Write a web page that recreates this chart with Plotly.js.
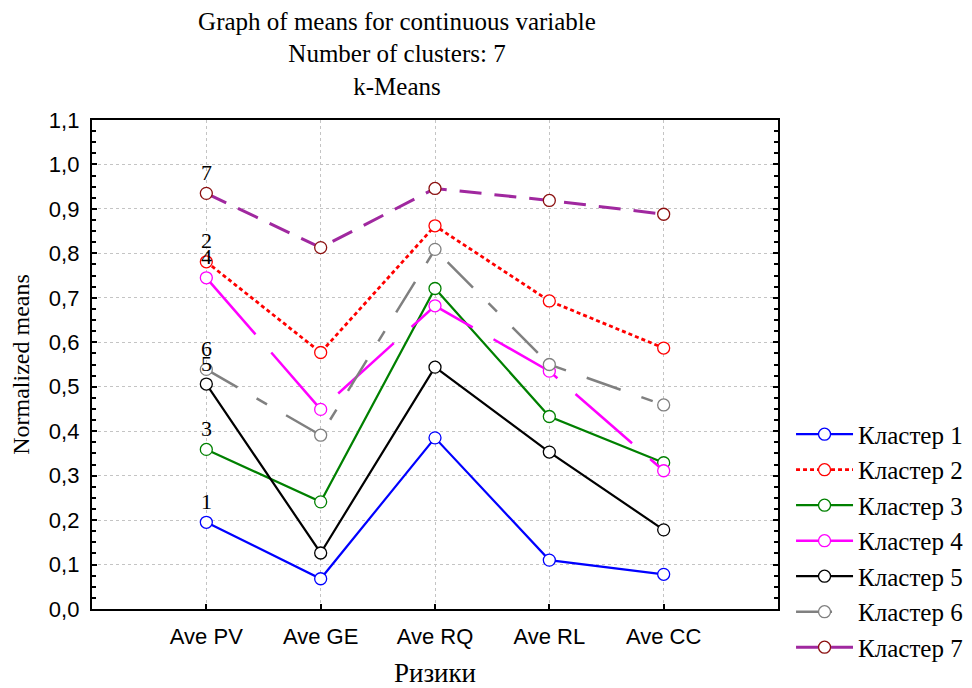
<!DOCTYPE html>
<html>
<head>
<meta charset="utf-8">
<script src="https://cdn.plot.ly/plotly-3.0.1.min.js"></script>
<style>html,body{margin:0;padding:0;background:#fff;}#chart{width:972px;height:688px;}</style>
</head>
<body>
<div id="chart"></div>
<script>
const categories = ['Ave PV', 'Ave GE', 'Ave RQ', 'Ave RL', 'Ave CC'];
const seriesNames = ['Кластер 1', 'Кластер 2', 'Кластер 3', 'Кластер 4', 'Кластер 5', 'Кластер 6', 'Кластер 7'];
const pointLabels = ['1', '2', '3', '4', '5', '6', '7'];
const cluster1 = [0.195, 0.068, 0.385, 0.110, 0.078];
const cluster2 = [0.781, 0.577, 0.862, 0.693, 0.587];
const cluster3 = [0.359, 0.241, 0.721, 0.433, 0.329];
const cluster4 = [0.745, 0.449, 0.682, 0.535, 0.311];
const cluster5 = [0.506, 0.126, 0.544, 0.353, 0.178];
const cluster6 = [0.539, 0.391, 0.809, 0.550, 0.459];
const cluster7 = [0.935, 0.813, 0.946, 0.919, 0.888];
const seriesValues = [cluster1, cluster2, cluster3, cluster4, cluster5, cluster6, cluster7];
const yTickVals = [0, 0.1, 0.2, 0.3, 0.4, 0.5, 0.6, 0.7, 0.8, 0.9, 1.0, 1.1];

const styles = [
  {line: '#0000ff', marker: '#0000ff', dash: 'solid', width: 2.2},
  {line: '#ff0000', marker: '#ff0000', dash: '4px,3px', width: 2.8},
  {line: '#008000', marker: '#008000', dash: 'solid', width: 2.2},
  {line: '#ff00ff', marker: '#ff00ff', dash: '75px,24px', width: 2.5},
  {line: '#000000', marker: '#000000', dash: 'solid', width: 2.2},
  {line: '#808080', marker: '#808080', dash: '36px,22px,12px,22px', width: 2.5},
  {line: '#a0289f', marker: '#8b1010', dash: '22px,13px', width: 3}
];

const traces = seriesValues.map((vals, i) => ({
  type: 'scatter',
  mode: 'lines+markers',
  name: seriesNames[i],
  x: categories,
  y: vals,
  line: {color: styles[i].line, width: styles[i].width, dash: styles[i].dash},
  marker: {symbol: 'circle', size: 12, color: '#ffffff', line: {color: styles[i].marker, width: 1.3}},
  cliponaxis: false
}));

const annotations = seriesValues.map((vals, i) => ({
  x: categories[0], y: vals[0], xref: 'x', yref: 'y',
  text: pointLabels[i], showarrow: false, yshift: 21,
  font: {family: 'Liberation Serif, Times New Roman, serif', size: 22, color: '#000'}
}));

const layout = {
  width: 972, height: 688,
  paper_bgcolor: '#ffffff', plot_bgcolor: '#ffffff',
  separators: ', ',
  margin: {l: 92, r: 194, t: 120, b: 79, pad: 0, autoexpand: false},
  title: {
    text: 'Graph of means for continuous variable<br>Number of clusters: 7<br>k-Means',
    font: {family: 'Liberation Serif, Times New Roman, serif', size: 25, color: '#000'},
    x: 0.4446, xref: 'paper', xanchor: 'center',
    y: 0.957, yref: 'container', yanchor: 'top'
  },
  xaxis: {
    type: 'category', range: [-1, 5],
    showline: true, linecolor: '#000', linewidth: 2.2, mirror: true,
    ticks: 'inside', ticklen: 5, tickwidth: 2, tickcolor: '#000',
    showgrid: true, gridcolor: '#c4c4c4', gridwidth: 1, griddash: '3px,3px',
    tickfont: {family: 'Liberation Sans, Arial, sans-serif', size: 22, color: '#000'},
    ticklabelstandoff: 6,
    zeroline: false,
    title: {text: 'Ризики', font: {family: 'Liberation Serif, Times New Roman, serif', size: 27, color: '#000'}, standoff: 20}
  },
  yaxis: {
    range: [0, 1.1], tickvals: yTickVals, tickformat: '.1f',
    showline: true, linecolor: '#000', linewidth: 2.2, mirror: 'ticks',
    ticks: 'inside', ticklen: 5, tickwidth: 2, tickcolor: '#000',
    minor: {ticks: 'inside', dtick: 0.025, ticklen: 4, tickwidth: 2, tickcolor: '#000', showgrid: false},
    showgrid: true, gridcolor: '#c4c4c4', gridwidth: 1, griddash: '3px,3px',
    tickfont: {family: 'Liberation Sans, Arial, sans-serif', size: 22, color: '#000'},
    ticklabelstandoff: 6,
    zeroline: false,
    title: {text: 'Normalized means', font: {family: 'Liberation Serif, Times New Roman, serif', size: 24, color: '#000'}, standoff: 13}
  },
  legend: {
    x: 1.019, xanchor: 'left', y: 0.404, yanchor: 'top',
    itemwidth: 57,
    font: {family: 'Liberation Serif, Times New Roman, serif', size: 25, color: '#000'},
    bgcolor: 'rgba(0,0,0,0)', borderwidth: 0, tracegroupgap: 0
  },
  showlegend: true,
  annotations: annotations
};

Plotly.newPlot('chart', traces, layout, {displayModeBar: false, staticPlot: true});
</script>
</body>
</html>
